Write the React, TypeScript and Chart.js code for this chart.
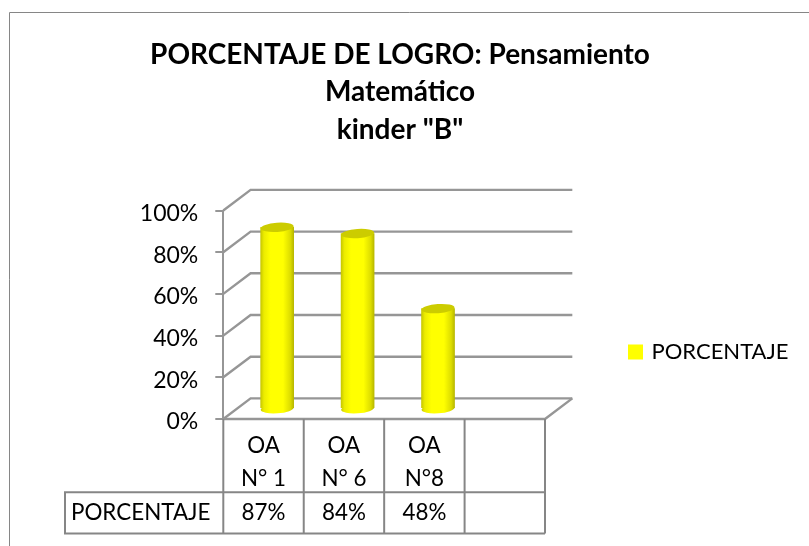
import React, { useEffect, useRef } from "react";
import { Chart, registerables } from "chart.js";

Chart.register(...registerables);

const categories: string[][] = [["OA", "N° 1"], ["OA", "N° 6"], ["OA", "N°8"], [""]];
const values: (number | null)[] = [87, 84, 48, null];
const seriesName = "PORCENTAJE";
const titleLines = ["PORCENTAJE DE LOGRO: Pensamiento", "Matemático", 'kinder "B"'];

const FONT = "Lato";
const GRAY = "#969696";
const TABLE_GRAY = "#868686";
const DX = 13.65;
const DY = -10.3;
const BAR_W = 33;
const LEGEND_PAD = 100;

const wallsAndTable = {
  id: "wallsAndTable",
  afterLayout(chart: any) {
    const lg = chart.legend;
    lg.left = 630.5 - LEGEND_PAD;
    lg.right = 809;
    const h = lg.columnSizes[0].height;
    lg.top = 341 - LEGEND_PAD;
    lg.bottom = 341 + h;
    chart.titleBlock.left = 0;
    chart.titleBlock.right = 800;
  },
  beforeDraw(chart: any) {
    const { ctx } = chart;
    ctx.save();
    ctx.strokeStyle = TABLE_GRAY;
    ctx.lineWidth = 1;
    ctx.beginPath();
    ctx.moveTo(809, 12.5);
    ctx.lineTo(9.5, 12.5);
    ctx.lineTo(9.5, 546);
    ctx.stroke();
    ctx.restore();
  },
  beforeDatasetsDraw(chart: any) {
    const { ctx, scales } = chart;
    const y = scales.y;
    const x = scales.x;
    const depthX = DX * 2;
    const depthY = DY * 2;
    ctx.save();
    ctx.strokeStyle = GRAY;
    ctx.lineWidth = 2.4;
    y.ticks.forEach((t: any) => {
      const py = y.getPixelForValue(t.value);
      ctx.beginPath();
      ctx.moveTo(x.left, py);
      ctx.lineTo(x.left + depthX, py + depthY);
      ctx.lineTo(x.right + depthX, py + depthY);
      ctx.stroke();
    });
    const floor = y.getPixelForValue(0);
    ctx.beginPath();
    ctx.moveTo(x.right + depthX, floor + depthY);
    ctx.lineTo(x.right, floor);
    ctx.lineTo(x.left, floor);
    ctx.stroke();

    // data table
    ctx.strokeStyle = TABLE_GRAY;
    ctx.lineWidth = 2;
    const cell = (x.right - x.left) / categories.length;
    const rowTop = 492.3;
    const rowBottom = 533.5;
    const tableLeft = 65;
    for (let i = 0; i <= categories.length; i++) {
      const px = x.left + i * cell;
      ctx.beginPath();
      ctx.moveTo(px, floor);
      ctx.lineTo(px, rowBottom);
      ctx.stroke();
    }
    ctx.beginPath();
    ctx.moveTo(x.right, rowTop);
    ctx.lineTo(tableLeft, rowTop);
    ctx.lineTo(tableLeft, rowBottom);
    ctx.lineTo(x.right, rowBottom);
    ctx.stroke();

    ctx.fillStyle = "#000";
    ctx.font = `22.4px ${FONT}`;
    ctx.textBaseline = "middle";
    ctx.textAlign = "left";
    ctx.fillText(seriesName, tableLeft + 6, (rowTop + rowBottom) / 2 - 0.5);
    ctx.textAlign = "center";
    values.forEach((v, i) => {
      if (v === null) return;
      ctx.fillText(`${v}%`, x.getPixelForValue(i), (rowTop + rowBottom) / 2 - 0.5);
    });
    ctx.restore();

    ctx.save();
    ctx.translate(DX, DY);
  },
  afterDatasetsDraw(chart: any) {
    const { ctx } = chart;
    const meta = chart.getDatasetMeta(0);
    const y = chart.scales.y;
    const base = y.getPixelForValue(0);
    meta.data.forEach((bar: any, i: number) => {
      if (values[i] === null) return;
      const rx = BAR_W / 2;
      const ry = 4.6;
      const tilt = -0.07;
      ctx.fillStyle = barGradient(ctx, bar.x);
      ctx.beginPath();
      ctx.ellipse(bar.x, base, rx, ry, tilt, 0, Math.PI * 2);
      ctx.fill();
      ctx.fillStyle = "#cccc00";
      ctx.beginPath();
      ctx.ellipse(bar.x, bar.y, rx, ry, tilt, 0, Math.PI * 2);
      ctx.fill();
    });
    ctx.restore();
  },
};

function barGradient(ctx: CanvasRenderingContext2D, cx: number) {
  const g = ctx.createLinearGradient(cx - BAR_W / 2, 0, cx + BAR_W / 2, 0);
  g.addColorStop(0, "#c8c800");
  g.addColorStop(0.1, "#ecec00");
  g.addColorStop(0.3, "#ffff00");
  g.addColorStop(0.68, "#ffff00");
  g.addColorStop(0.9, "#dcdc00");
  g.addColorStop(1, "#b8b800");
  return g;
}

export default function App() {
  const ref = useRef<HTMLCanvasElement>(null);
  useEffect(() => {
    const chart = new Chart(ref.current!, {
      type: "bar",
      data: {
        labels: categories,
        datasets: [
          {
            label: seriesName,
            data: values,
            barThickness: BAR_W,
            clip: false,
            borderWidth: 0,
            backgroundColor: (c: any) => {
              if (c.dataIndex === undefined) return "#ffff00";
              const px = c.chart.scales.x.getPixelForValue(c.dataIndex);
              if (!Number.isFinite(px)) return "#ffff00";
              return barGradient(c.chart.ctx, px);
            },
          },
        ],
      } as any,
      options: {
        responsive: false,
        animation: false,
        layout: { autoPadding: false, padding: { right: 82.3 } },
        plugins: {
          tooltip: { enabled: false },
          title: {
            display: true,
            text: titleLines,
            color: "#000",
            font: { family: FONT, size: 28, weight: "bold", lineHeight: 37.5 / 28 },
            padding: { top: 36, bottom: 62 },
          },
          legend: {
            display: true,
            position: "right",
            labels: {
              boxWidth: 10,
              boxHeight: 10,
              padding: LEGEND_PAD,
              color: "#000",
              font: { family: FONT, size: 22 },
              generateLabels: () => [
                {
                  text: seriesName,
                  fillStyle: "#ffff00",
                  strokeStyle: "#ffff00",
                  lineWidth: 5,
                  fontColor: "#000",
                  datasetIndex: 0,
                },
              ],
            },
          },
        },
        scales: {
          x: {
            grid: { display: false },
            border: { display: false },
            afterFit: (s: any) => {
              s.height = 127;
            },
            ticks: {
              autoSkip: false,
              maxRotation: 0,
              minRotation: 0,
              padding: 2.5,
              color: "#000",
              font: { family: FONT, size: 22.4, lineHeight: 33 / 22.4 },
            },
          },
          y: {
            min: 0,
            max: 100,
            afterFit: (s: any) => {
              s.width = 223.3;
            },
            border: { display: true, color: GRAY, width: 2 },
            grid: { drawOnChartArea: false, drawTicks: true, tickLength: 8, color: GRAY, lineWidth: 2 },
            ticks: {
              stepSize: 20,
              padding: 17,
              labelOffset: 3,
              color: "#000",
              font: { family: FONT, size: 23 },
              callback: (v: any) => `${v}%`,
            },
          },
        },
      },
      plugins: [wallsAndTable],
    } as any);
    return () => chart.destroy();
  }, []);
  return (
    <div style={{ position: "fixed", left: 0, top: 0 }}>
      <canvas ref={ref} width={809} height={546} style={{ display: "block" }} />
    </div>
  );
}
